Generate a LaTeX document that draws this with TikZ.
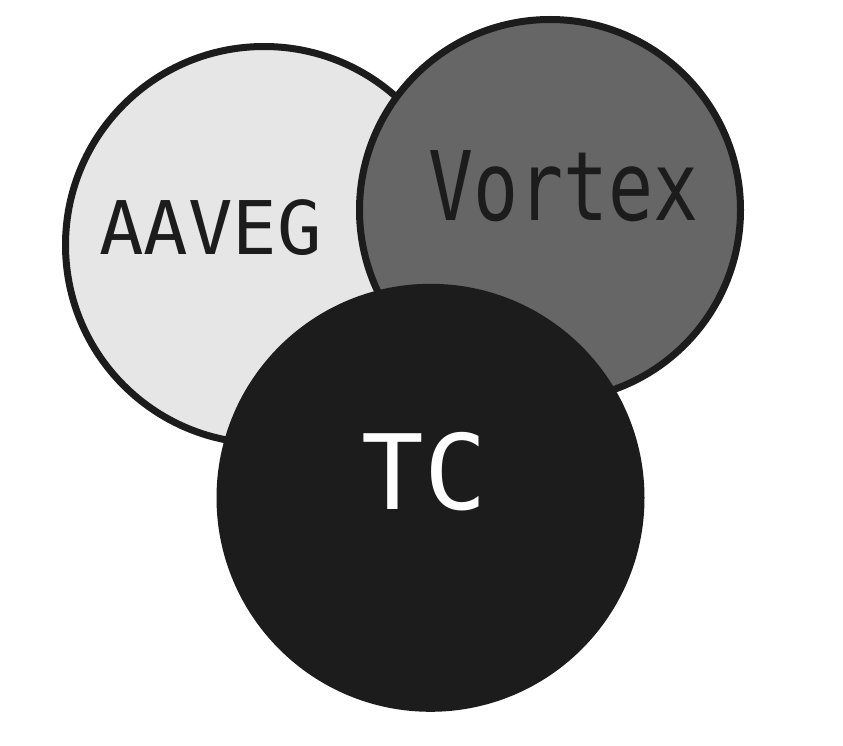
\documentclass[tikz,border=0pt]{standalone}
\usepackage{fontspec}
\newfontfamily\diagmono{DejaVu Sans Mono}
\definecolor{ink}{HTML}{1C1C1C}
\definecolor{lightfill}{HTML}{E6E6E6}
\definecolor{midfill}{HTML}{666666}
\begin{document}
\begin{tikzpicture}[x=1pt,y=-1pt,
  ring/.style={circle, draw=ink, line width=7pt, inner sep=0pt},
  lbl/.style={anchor=base, inner sep=0pt, font=\diagmono}]
\useasboundingbox (0,0) rectangle (843,746);
\fill[white] (0,0) rectangle (843,746);
% circles
\node[ring, fill=lightfill, minimum size=397pt] (aaveg) at (264,245) {};
\node[ring, fill=midfill, minimum size=381pt] (vortex) at (550,210) {};
\node[circle, fill=ink, inner sep=0pt, minimum size=428pt] (tc) at (430.5,497.8) {};
% labels
\node[lbl, text=ink] (aavegtxt) at (210.5,254) {\fontsize{74}{74}\selectfont AAVEG};
\node[lbl, text=ink] (vortextxt) at (563.5,220) {\scalebox{0.78}[1]{\fontsize{96}{96}\selectfont Vortex}};
\node[lbl, text=white] (tctxt) at (424.5,509) {\fontsize{104}{104}\selectfont TC};
\end{tikzpicture}
\end{document}
